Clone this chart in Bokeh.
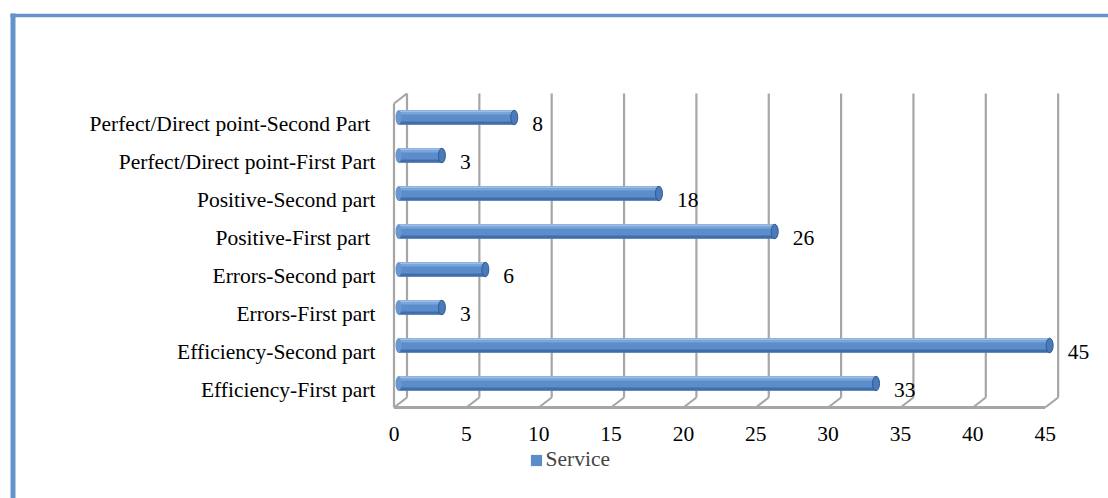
from bokeh.plotting import figure
from bokeh.models import Range1d, Legend, LegendItem, ColumnDataSource
from bokeh.embed import file_html
from bokeh.resources import INLINE
from bokeh.core.properties import value

# ---------------- data ----------------
categories = [
    "Efficiency-First part",
    "Efficiency-Second part",
    "Errors-First part",
    "Errors-Second part",
    "Positive-First part ",
    "Positive-Second part",
    "Perfect/Direct point-First Part",
    "Perfect/Direct point-Second  Part",
]
values = [33, 45, 3, 6, 26, 18, 3, 8]
x_ticks = [0, 5, 10, 15, 20, 25, 30, 35, 40, 45]
x_tick_labels = [str(t) for t in x_ticks]
series_name = "Service"

# ---------------- geometry / style ----------------
W, H = 1108, 498
PX_X = 14.47      # px per value unit
PX_Y = 38.0       # px per category row
X0_PX = 393.5     # canvas px of value 0 (front plane)
Y0_PX = 389.5     # canvas px of row 0 (front plane)


def sx(px):
    return (px - X0_PX) / PX_X


def sy(py):
    return (Y0_PX - py) / PX_Y


DDX = 13.0 / PX_X         # depth offset (x) to back wall
DDY = 10.0 / PX_Y         # depth offset (y) to back wall
FLOOR = sy(407)           # front floor line
TOP = sy(93)              # top of back wall gridlines
BAR_X0 = sx(398)          # bar start
BAR_DY = 6.5 / PX_Y       # bars sit at mid depth
BAR_H = 14.5 / PX_Y

FONT = value("Liberation Serif")
FS = "21.5px"
GRID = "#a6a6a6"

p = figure(width=W, height=H, output_backend="svg", toolbar_location=None,
           x_range=Range1d(sx(0), sx(W)), y_range=Range1d(sy(H), sy(0)),
           x_axis_location=None, y_axis_location=None, min_border=0,
           background_fill_color="white", border_fill_color="white",
           outline_line_color=None)
p.xgrid.visible = False
p.ygrid.visible = False

# outer blue frame (left and top edges)
p.segment(x0=[sx(12.5)], y0=[sy(13)], x1=[sx(12.5)], y1=[sy(H + 5)],
          line_color="#6494cb", line_width=5)
p.segment(x0=[sx(10)], y0=[sy(15)], x1=[sx(W + 5)], y1=[sy(15)],
          line_color="#6494cb", line_width=3.5)

# back-wall gridlines
gx = [t + DDX for t in x_ticks]
p.segment(x0=gx, y0=[FLOOR + DDY] * len(gx), x1=gx, y1=[TOP] * len(gx),
          line_color=GRID, line_width=2.2)
# floor diagonals
p.segment(x0=x_ticks, y0=[FLOOR] * len(x_ticks), x1=gx, y1=[FLOOR + DDY] * len(gx),
          line_color=GRID, line_width=2.2)
# front floor edge
p.segment(x0=[x_ticks[0]], y0=[FLOOR], x1=[x_ticks[-1]], y1=[FLOOR],
          line_color=GRID, line_width=3)
# left wall front edge + top diagonal
p.segment(x0=[x_ticks[0]], y0=[FLOOR], x1=[x_ticks[0]], y1=[TOP - DDY],
          line_color=GRID, line_width=2.2)
p.segment(x0=[x_ticks[0]], y0=[TOP - DDY], x1=[x_ticks[0] + DDX], y1=[TOP],
          line_color=GRID, line_width=2.2)

# bars (cylinders)
rows = list(range(len(categories)))
bar_y = [r + BAR_DY for r in rows]
ends = [BAR_X0 + v for v in values]
src = ColumnDataSource(dict(y=bar_y, left=[BAR_X0] * len(values), right=ends,
                            ytop=[y + 5.0 / PX_Y for y in bar_y],
                            ybot=[y - 5.5 / PX_Y for y in bar_y],
                            yhl=[y + 6.2 / PX_Y for y in bar_y]))
base = p.hbar(y="y", left="left", right="right", height=BAR_H, source=src,
              fill_color="#5b8dcb", line_color=None)
p.hbar(y="ytop", left="left", right="right", height=4.0 / PX_Y, source=src,
       fill_color="#7ba5da", line_color=None)
p.hbar(y="yhl", left="left", right="right", height=1.6 / PX_Y, source=src,
       fill_color="#9ebfe8", line_color=None)
p.hbar(y="ybot", left="left", right="right", height=3.0 / PX_Y, source=src,
       fill_color="#416ea9", line_color=None)
p.ellipse(x="left", y="y", width=6, height=14.5, width_units="screen",
          height_units="screen", source=src, fill_color="#6b97d1", line_color=None)
p.ellipse(x="right", y="y", width=7, height=14.5, width_units="screen",
          height_units="screen", source=src, fill_color="#4a7aba",
          line_color="#2f5b95", line_width=1)

# value labels
lsrc = ColumnDataSource(dict(x=ends, y=rows, t=[str(v) for v in values]))
p.text(x="x", y="y", text="t", source=lsrc, x_offset=18, text_align="left",
       text_baseline="middle", text_font=FONT, text_font_size=FS, text_color="black")

# category labels
csrc = ColumnDataSource(dict(x=[sx(375)] * len(categories), y=rows, t=categories))
p.text(x="x", y="y", text="t", source=csrc, text_align="right",
       text_baseline="middle", text_font=FONT, text_font_size=FS, text_color="black")

# x tick labels
tsrc = ColumnDataSource(dict(x=x_ticks, y=[sy(433)] * len(x_ticks), t=x_tick_labels))
p.text(x="x", y="y", text="t", source=tsrc, text_align="center",
       text_baseline="middle", text_font=FONT, text_font_size=FS, text_color="black")

# legend
legend = Legend(items=[LegendItem(label=series_name, renderers=[base])],
                location=(528.5, 26), border_line_color=None,
                background_fill_alpha=0, padding=0, margin=0,
                glyph_width=14, glyph_height=14, label_standoff=3,
                label_height=20, label_text_font="Liberation Serif",
                label_text_font_size=FS)
p.add_layout(legend)

open("out.html", "w").write(file_html(p, INLINE))
